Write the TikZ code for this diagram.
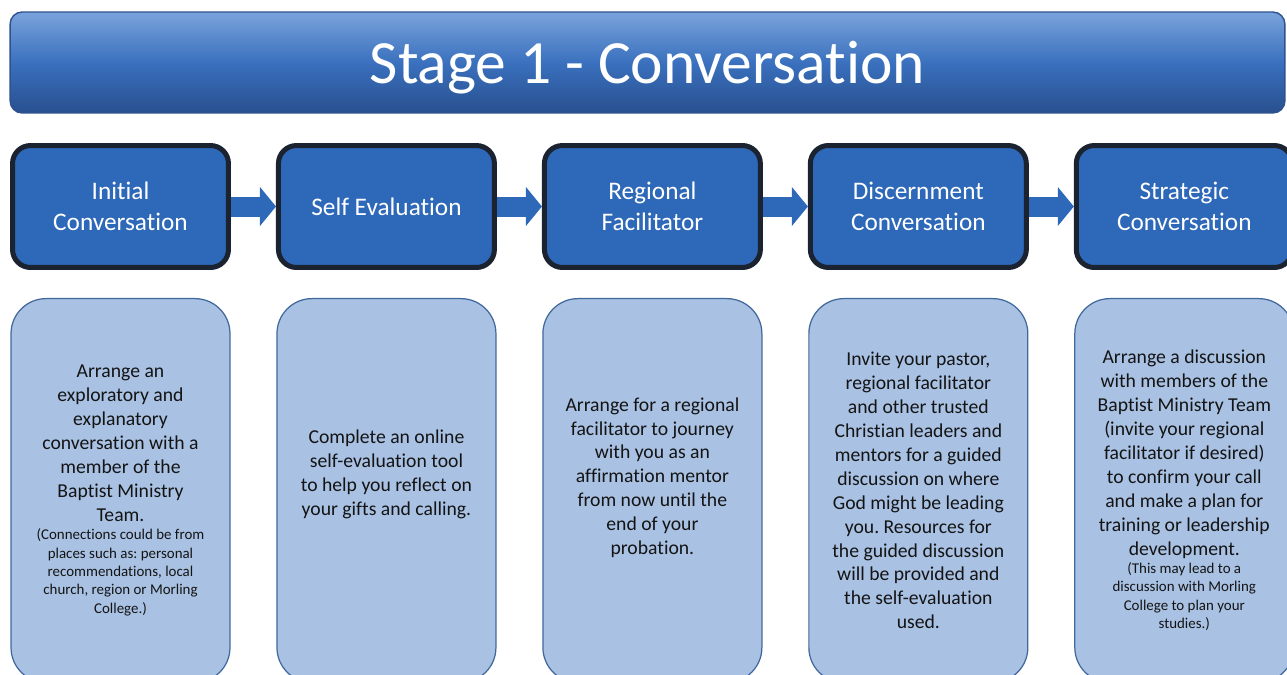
\documentclass[tikz,border=0pt]{standalone}
\usepackage{fontspec}
\setmainfont{Carlito}[Ligatures=NoCommon]
\usetikzlibrary{positioning,arrows.meta}
\frenchspacing

\definecolor{stepblue}{HTML}{2E68B8}
\definecolor{stepline}{HTML}{1B2331}
\definecolor{notefill}{HTML}{A9C1E3}
\definecolor{noteline}{HTML}{41689C}
\definecolor{titletop}{HTML}{7AA3DB}
\definecolor{titlemid}{HTML}{3A70BE}
\definecolor{titlebot}{HTML}{28508F}
\definecolor{titleline}{HTML}{2F528F}

\begin{document}
\begin{tikzpicture}[x=0.02cm, y=-0.02cm,
    titlebar/.style = {draw=titleline, line width=0.8pt, rounded corners=0.24cm, top color=titletop, bottom color=titlebot, middle color=titlemid, minimum width=25.5cm, minimum height=2.02cm, text height=30.5pt, text depth=7pt, text=white, font=\fontsize{35}{42}\selectfont},
    stepbox/.style = {draw=stepline, fill=stepblue, line width=0.1cm, rounded corners=0.36cm, minimum width=4.32cm, minimum height=2.44cm, text=white, align=center, font=\fontsize{14.4}{17.5}\selectfont},
    note/.style = {draw=noteline, fill=notefill, line width=0.7pt, rounded corners=0.7cm, minimum width=4.38cm, minimum height=7.68cm, text width=4.0cm, align=flush center, text=black!92, font=\fontsize{11.2}{13.6}\selectfont},
    flow/.style = {stepblue, line width=0.4cm, -{Triangle[length=0.32cm 0 0, width=0.78cm 0 0, line width=0pt 0 0]}}
]
    \useasboundingbox (0,0) rectangle (1287,674);
    \clip (0,0) rectangle (1287,674);

    \node[titlebar] (title) at (647.5,62.5) {Stage 1 - Conversation};

    \node[stepbox] (initial) at (120.5,206.5) {Initial\\Conversation};
    \node[stepbox] (selfeval) [right=0.9cm of initial] {Self Evaluation};
    \node[stepbox] (regional) [right=0.9cm of selfeval] {Regional\\Facilitator};
    \node[stepbox] (discern) [right=0.9cm of regional] {Discernment\\Conversation};
    \node[stepbox] (strategic) [right=0.9cm of discern] {Strategic\\Conversation};

    \draw[flow] (initial) -- (selfeval);
    \draw[flow] (selfeval) -- (regional);
    \draw[flow] (regional) -- (discern);
    \draw[flow] (discern) -- (strategic);

    \node[note] (initialnote) [below=0.56cm of initial] {Arrange an\\ exploratory and\\ explanatory\\ conversation with a\\ member of the\\ Baptist Ministry\\ Team.\par
        \fontsize{8.5}{10.5}\selectfont (Connections could be from\\ places such as: personal\\ recommendations, local\\ church, region or Morling\\ College.)\par};
    \node[note] (selfevalnote) [below=0.56cm of selfeval] {Complete an online\\ self-evaluation tool\\ to help you reflect on\\ your gifts and calling.\par\vspace{0.64cm}};
    \node[note] (regionalnote) [below=0.56cm of regional] {Arrange for a regional\\ facilitator to journey\\ with you as an\\ affirmation mentor\\ from now until the\\ end of your\\ probation.\par\vspace{0.52cm}};
    \node[note] (discernnote) [below=0.56cm of discern] {Invite your pastor,\\ regional facilitator\\ and other trusted\\ Christian leaders and\\ mentors for a guided\\ discussion on where\\ God might be leading\\ you. Resources for\\ the guided discussion\\ will be provided and\\ the self-evaluation\\ used.};
    \node[note] (strategicnote) [below=0.56cm of strategic] {Arrange a discussion\\ with members of the\\ Baptist Ministry Team\\ (invite your regional\\ facilitator if desired)\\ to confirm your call\\ and make a plan for\\ training or leadership\\ development.\par
        \fontsize{8.5}{10.5}\selectfont (This may lead to a\\ discussion with Morling\\ College to plan your\\ studies.)\par};

\end{tikzpicture}
\end{document}
